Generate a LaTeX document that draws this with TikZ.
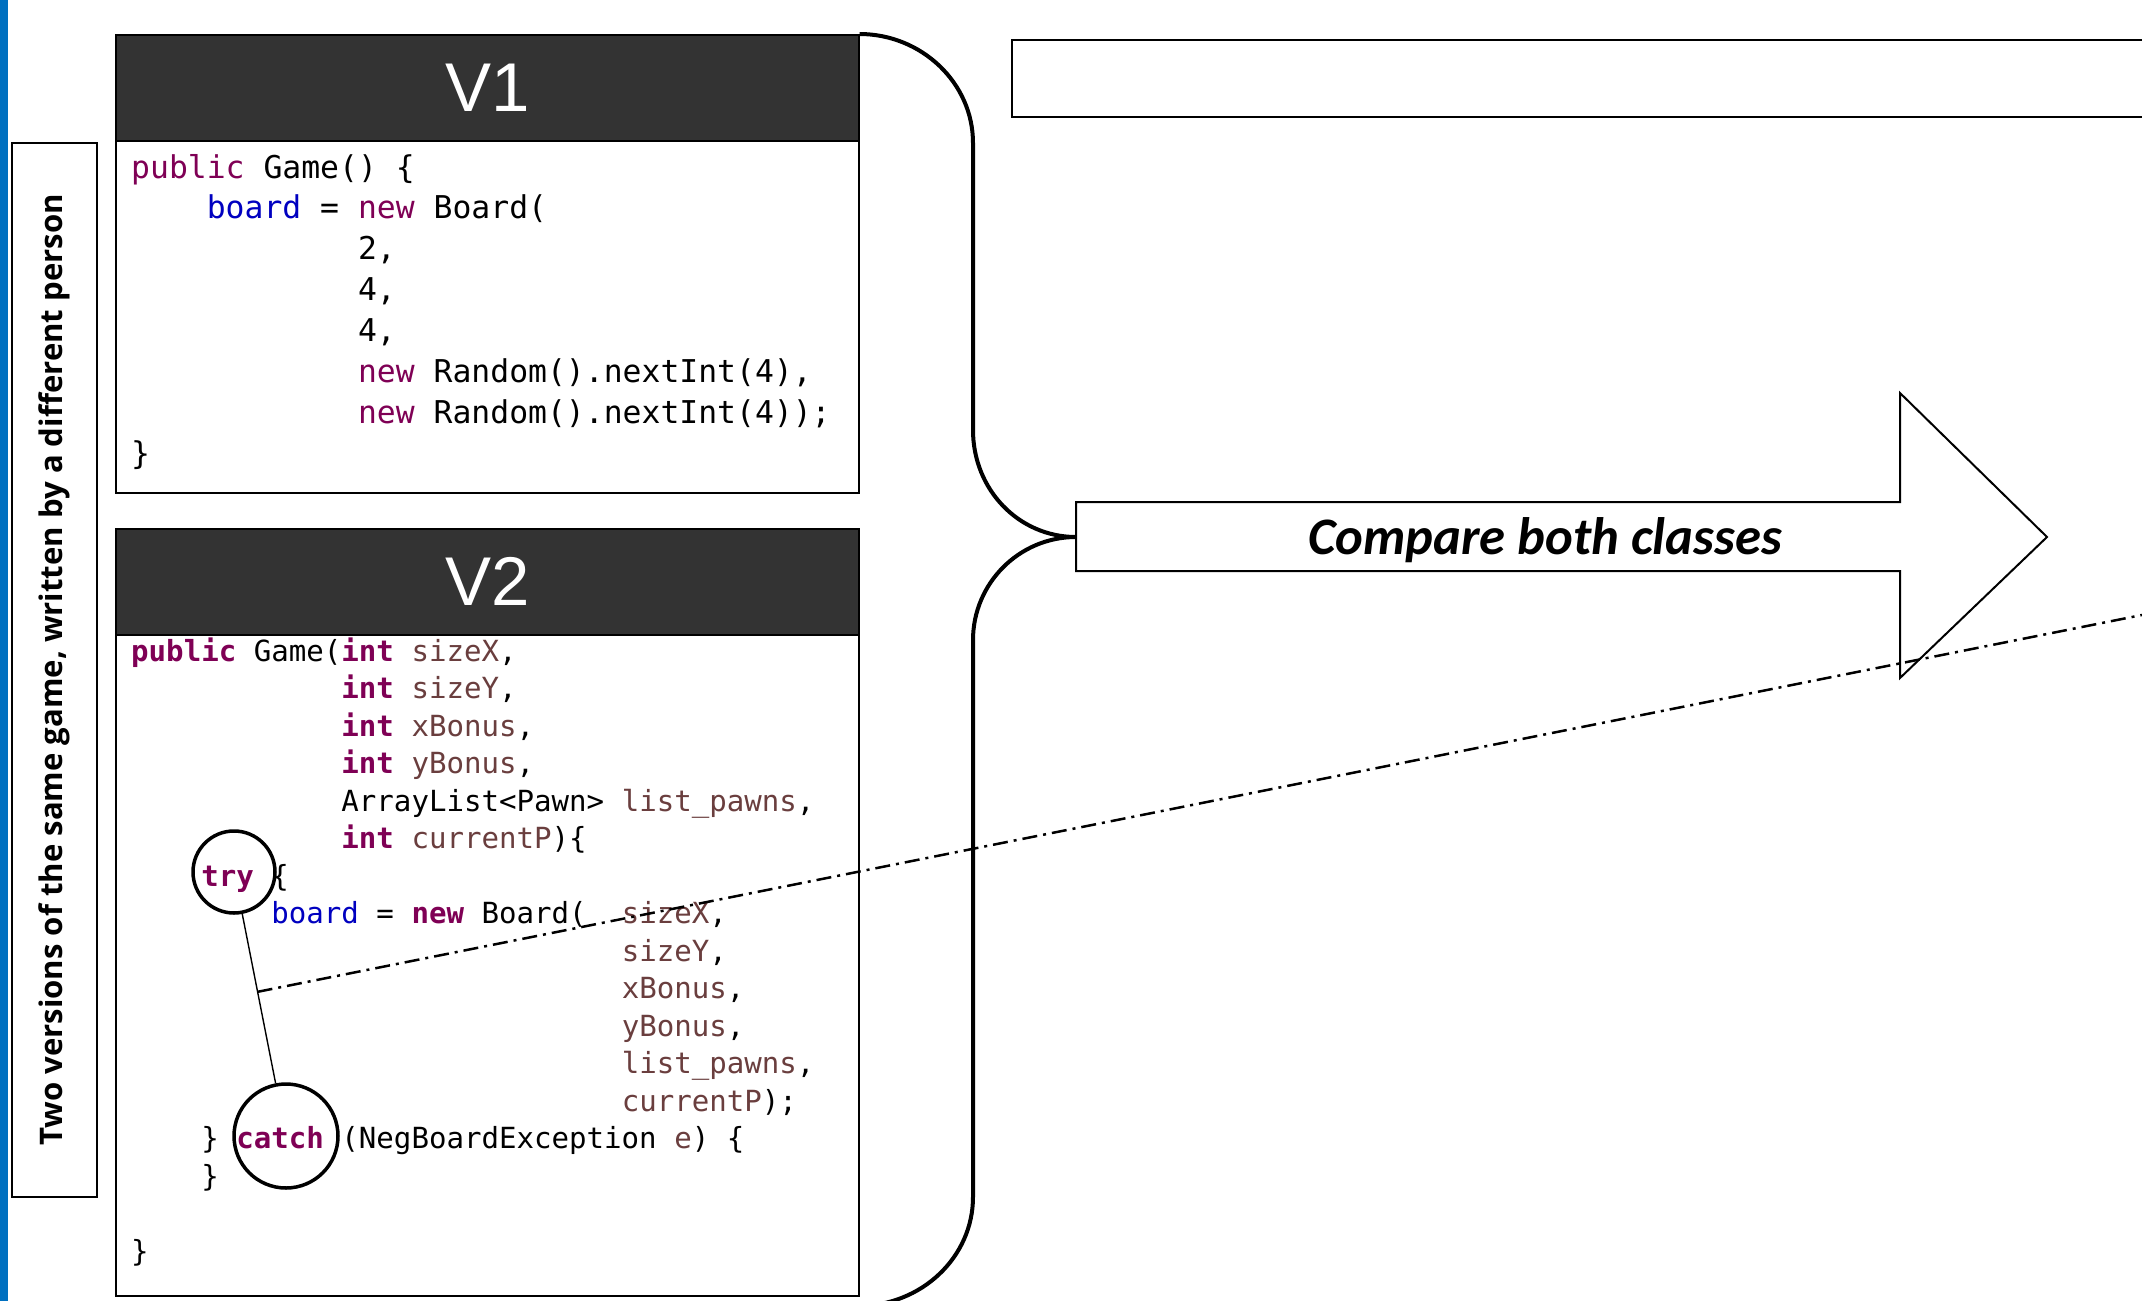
\documentclass[tikz,border=0pt]{standalone}
\usepackage{fontspec}
\setmainfont{Liberation Sans}
\setmonofont{DejaVu Sans Mono}
\newfontfamily\calfont{Carlito}
\newfontfamily\sidefont{Open Sans}
\usetikzlibrary{calc, positioning}
\definecolor{headGray}{HTML}{333333}
\definecolor{barBlue}{HTML}{0070C0}
\definecolor{kwPurple}{HTML}{7F0055}
\definecolor{fieldBlue}{HTML}{0000C0}
\definecolor{paramBrown}{HTML}{6A3E3E}
% java highlighting
\newcommand{\kw}[1]{\textcolor{kwPurple}{#1}}
\newcommand{\kwb}[1]{\textcolor{kwPurple}{\bfseries #1}}
\newcommand{\fld}[1]{\textcolor{fieldBlue}{#1}}
\newcommand{\pv}[1]{\textcolor{paramBrown}{#1}}
\newcommand{\ind}[1]{\hspace*{#1\fontcharwd\font`x}}
\frenchspacing

\begin{document}
\begin{tikzpicture}[x=1pt, y=-1pt,
    codeone/.style={anchor=base west, inner sep=0pt, font=\ttfamily\fontsize{31.4}{38}\selectfont},
    codetwo/.style={anchor=base west, inner sep=0pt, font=\ttfamily\fontsize{29.1}{35}\selectfont},
    headbox/.style={draw, line width=1.5pt, fill=headGray, text=white, font=\fontsize{69}{80}\selectfont,
        minimum width=743pt, minimum height=106pt, anchor=north west, inner sep=0pt},
    bodybox/.style={draw, line width=1.5pt, fill=white, minimum width=743pt, anchor=north west, inner sep=0pt},
    hilite/.style={circle, draw, line width=3.5pt, inner sep=0pt},
    dashdot/.style={line width=2.5pt, dash pattern=on 15pt off 6pt on 3pt off 6pt}]
    \useasboundingbox (0,0) rectangle (2142,1301);

    \fill[barBlue] (0,0) rectangle (8,1301);
    \node[draw, line width=1.5pt, rotate=90, minimum width=1054pt, minimum height=85pt, inner sep=0pt,
        font=\sidefont\bfseries\fontsize{31.1}{38}\selectfont] (side) at (54.5,670)
        {Two versions of the same game, written by a different person};

    % first version
    \node[bodybox, minimum height=352pt] (v1body) at (115,140) {};
    \node[headbox] (v1head) at (115,34) {V1};
    \foreach \txt [count=\i] in {
        {\kw{public} Game() \{},
        {\ind{4}\fld{board} = \kw{new} Board(},
        {\ind{12}2,},
        {\ind{12}4,},
        {\ind{12}4,},
        {\ind{12}\kw{new} Random().nextInt(4),},
        {\ind{12}\kw{new} Random().nextInt(4));},
        {\}}}
        \node[codeone] (v1l\i) at (131,{178+40.9*(\i-1)}) {\txt};

    % second version
    \node[bodybox, minimum height=661pt] (v2body) at (115,634) {};
    \node[headbox] (v2head) at (115,528) {V2};
    \foreach \txt [count=\i] in {
        {\kwb{public} Game(\kwb{int} \pv{sizeX},},
        {\ind{12}\kwb{int} \pv{sizeY},},
        {\ind{12}\kwb{int} \pv{xBonus},},
        {\ind{12}\kwb{int} \pv{yBonus},},
        {\ind{12}ArrayList<Pawn> \pv{list\_pawns},},
        {\ind{12}\kwb{int} \pv{currentP})\{},
        {\ind{4}\kwb{try} \{},
        {\ind{8}\fld{board} = \kwb{new} Board(\ind{2}\pv{sizeX},},
        {\ind{28}\pv{sizeY},},
        {\ind{28}\pv{xBonus},},
        {\ind{28}\pv{yBonus},},
        {\ind{28}\pv{list\_pawns},},
        {\ind{28}\pv{currentP});},
        {\ind{4}\} \kwb{catch} (NegBoardException \pv{e}) \{},
        {\ind{4}\}},
        {},
        {\}}}
        \node[codetwo] (v2l\i) at (131,{661+37.5*(\i-1)}) {\txt};

    % try / catch marks
    \node[hilite, minimum size=82pt] (try) at (234,872) {};
    \node[hilite, minimum size=104pt] (catch) at (286,1136) {};
    \draw[line width=1.4pt] (try) -- coordinate[pos=0.46] (tie) (catch);

    % brace joining both versions
    \draw[line width=4pt] (v1head.north east) .. controls (921.5,34) and (973,82.8) .. (973,143)
        -- (973,430) .. controls (973,489.6) and (1018.7,537) .. (1076,537)
        .. controls (1018.7,537) and (973,583.7) .. (973,640)
        -- (973,1197) .. controls (973,1257.2) and (921.5,1306) .. (858,1306);

    \draw[line width=2pt] (2142,40) -- (1012,40) -- (1012,117) -- (2142,117);

    \draw[line width=2pt, fill=white] (1076,502) -- (1900,502) -- (1900,393) -- (2047,537)
        -- (1900,678) -- (1900,571) -- (1076,571) -- cycle;
    \node[font=\calfont\bfseries\itshape\fontsize{52.7}{60}\selectfont] (cmp) at (1545,540) {Compare both classes};

    \coordinate (far) at (2142,615);
    \draw[dashdot] (tie) -- (far);
\end{tikzpicture}
\end{document}
